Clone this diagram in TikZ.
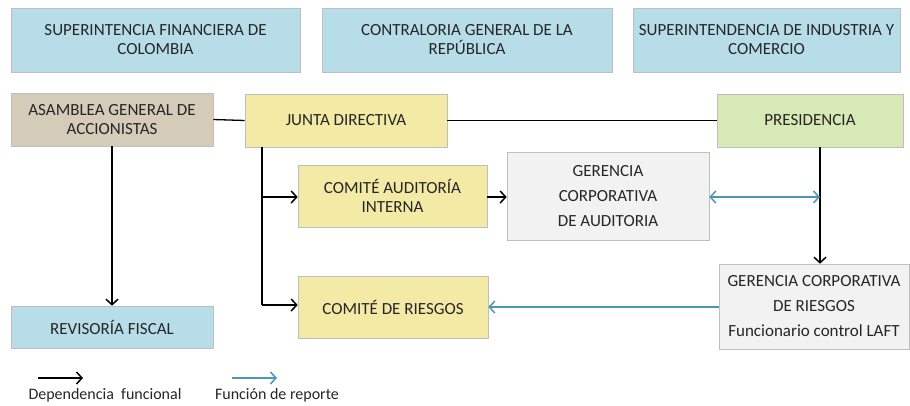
\documentclass[tikz,border=0pt]{standalone}
\usepackage{fontspec}
\setmainfont{Carlito}
\usetikzlibrary{arrows.meta}
\definecolor{lblue}{RGB}{183,222,232}
\definecolor{tan}{RGB}{212,204,184}
\definecolor{pyellow}{RGB}{243,234,166}
\definecolor{pgreen}{RGB}{215,233,181}
\definecolor{lgray}{RGB}{242,242,242}
\definecolor{rep}{RGB}{74,152,178}
\tikzset{
  box/.style={draw=black!25, line width=0.6pt, inner sep=0pt, align=center, font=\fontsize{17}{19}\selectfont, text=black!85},
  tall/.style={font=\fontsize{17}{25}\selectfont},
  dep/.style={line width=1.5pt, -{Straight Barb[length=5.5pt,width=12pt,line width=1.5pt]}},
  repo/.style={line width=1.5pt, rep, -{Straight Barb[length=5.5pt,width=12pt,line width=1.5pt]}},
  ln/.style={line width=1.3pt},
  legtext/.style={font=\fontsize{16}{19}\selectfont, text=black!85},
}
\begin{document}
\begin{tikzpicture}[x=1pt,y=-1pt]
\useasboundingbox (0,0) rectangle (910,405);
\newcommand{\bx}[6]{\node[box,fill=#5,minimum width={#3-#1},minimum height={#4-#2},#6] at ({(#1+#3)/2},{(#2+#4)/2})}
\bx{11}{8}{300}{72}{lblue}{} (sf) {SUPERINTENCIA FINANCIERA DE\\COLOMBIA};
\bx{322}{8}{612}{72}{lblue}{} (cg) {CONTRALORIA GENERAL DE LA\\REPÚBLICA};
\bx{633}{8}{900}{72}{lblue}{} (si) {SUPERINTENDENCIA DE INDUSTRIA Y\\COMERCIO};
\bx{11}{93}{213}{146}{tan}{} (ag) {ASAMBLEA GENERAL DE\\ACCIONISTAS};
\bx{245}{94}{447}{147}{pyellow}{} (jd) {JUNTA DIRECTIVA};
\bx{717}{94}{903}{147}{pgreen}{} (pr) {PRESIDENCIA};
\bx{298}{165}{487}{227}{pyellow}{} (ca) {COMITÉ AUDITORÍA\\INTERNA};
\bx{507}{152}{709}{240}{lgray}{tall} (ga) {GERENCIA\\CORPORATIVA\\DE AUDITORIA};
\bx{298}{276}{488}{338}{pyellow}{} (cr) {COMITÉ DE RIESGOS};
\bx{719}{264}{909}{349}{lgray}{tall} (gr) {GERENCIA CORPORATIVA\\DE RIESGOS\\Funcionario control LAFT};
\bx{11}{306}{213}{348}{lblue}{} (rf) {REVISORÍA FISCAL};
% connectors
\draw[ln] (ag.east) -- (jd.west);
\draw[ln] (jd.east) -- (pr.west);
\coordinate (jdb) at (262,147);
\coordinate (j1) at (262,197);
\coordinate (j2) at (262,305);
\draw[ln] (jdb) -- (j2);
\draw[dep] (j1) -- (ca.west |- j1);
\draw[dep] (j2) -- (cr.west |- j2);
\draw[dep] (ag.south -| 112,0) -- (rf.north -| 112,0);
\draw[dep] (ca.east |- j1) -- (ga.west |- j1);
\coordinate (pv) at (820,197);
\draw[dep] (pr.south -| pv) -- (gr.north -| pv);
\draw[repo, {Straight Barb[length=5.5pt,width=12pt,line width=1.5pt]}-{Straight Barb[length=5.5pt,width=12pt,line width=1.5pt]}] (ga.east |- pv) -- (pv);
\coordinate (rr) at (0,307);
\draw[repo] (gr.west |- rr) -- (cr.east |- rr);
% legend
\coordinate (l1a) at (38,378); \coordinate (l1b) at (83,378);
\coordinate (l2a) at (232,378); \coordinate (l2b) at (277,378);
\draw[dep] (l1a) -- (l1b);
\draw[repo] (l2a) -- (l2b);
\node[legtext] (t1) at (105,395) {Dependencia\ \ funcional};
\node[legtext] (t2) at (277,395) {Función de reporte};
\end{tikzpicture}
\end{document}
